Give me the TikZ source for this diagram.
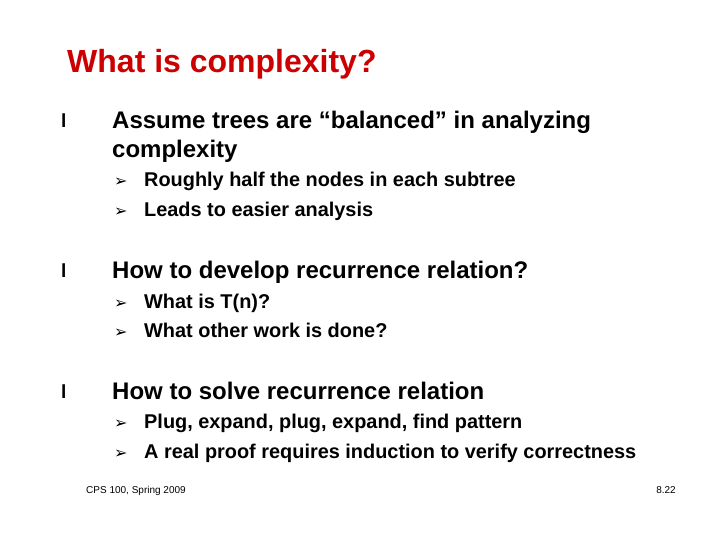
\documentclass[tikz,border=0pt]{standalone}
\usepackage{fontspec}
\setmainfont{Liberation Sans}
\newfontfamily\symfont{DejaVu Sans}
\definecolor{titlered}{RGB}{204,0,0}
\tikzset{
  slidetitle/.style={anchor=base west,inner sep=0pt,text=titlered,font=\fontsize{32}{36}\bfseries\selectfont},
  lvlone/.style={anchor=base west,inner sep=0pt,font=\fontsize{24}{29}\bfseries\selectfont},
  lvltwo/.style={anchor=base west,inner sep=0pt,font=\fontsize{19.9}{23}\bfseries\selectfont},
  dotmark/.style={anchor=base west,inner sep=0pt,font=\fontsize{19}{22}\bfseries\selectfont},
  arrmark/.style={anchor=base west,inner sep=0pt,font=\fontsize{16}{18}\bfseries\symfont},
  footer/.style={anchor=base,inner sep=0pt,font=\fontsize{10}{12}\selectfont}
}
\begin{document}
\begin{tikzpicture}[x=1pt,y=-1pt]
\useasboundingbox (0,0) rectangle (720,540);
\node[slidetitle] (title) at (67,73) {What is complexity?};

\node[dotmark] (b1) at (61,128) {l};
\node[lvlone] (t1) at (112,129) {Assume trees are “balanced” in analyzing};
\node[lvlone] (t1b) at (112,158) {complexity};
\node[arrmark] (a11) at (114,187) {➢};
\node[lvltwo] (s11) at (144,187) {Roughly half the nodes in each subtree};
\node[arrmark] (a12) at (114,216) {➢};
\node[lvltwo] (s12) at (144,216) {Leads to easier analysis};

\node[dotmark] (b2) at (61,277) {l};
\node[lvlone] (t2) at (112,278) {How to develop recurrence relation?};
\node[arrmark] (a21) at (114,308) {➢};
\node[lvltwo] (s21) at (144,308) {What is T(n)?};
\node[arrmark] (a22) at (114,337) {➢};
\node[lvltwo] (s22) at (144,337) {What other work is done?};

\node[dotmark] (b3) at (61,398) {l};
\node[lvlone] (t3) at (112,399) {How to solve recurrence relation};
\node[arrmark] (a31) at (114,428) {➢};
\node[lvltwo] (s31) at (144,428) {Plug, expand, plug, expand, find pattern};
\node[arrmark] (a32) at (114,458) {➢};
\node[lvltwo] (s32) at (144,458) {A real proof requires induction to verify correctness};

\node[footer,anchor=base west] (course) at (86,493) {CPS 100, Spring 2009};
\node[footer,anchor=base east] (page) at (676,493) {8.22};
\end{tikzpicture}
\end{document}
